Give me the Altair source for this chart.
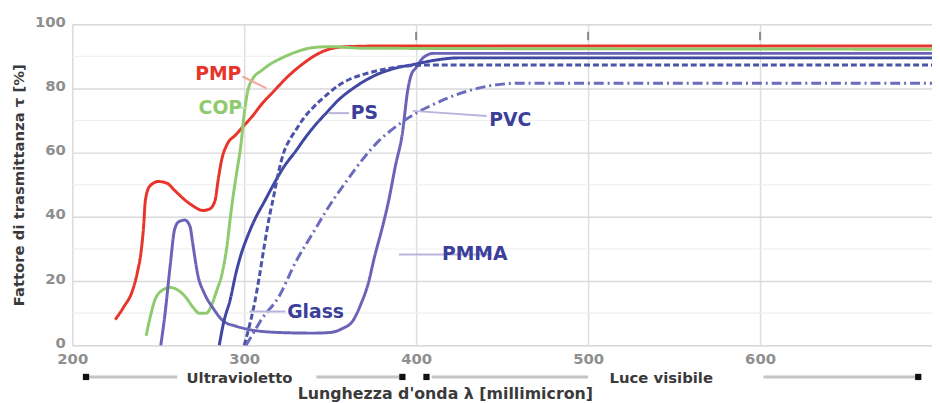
import altair as alt
import pandas as pd

# ---------------- data (wavelength nm, transmittance %) ----------------
pmp_nm = [225, 230, 235, 238, 240, 241.5, 242.5, 245, 250, 255, 260, 265, 270, 276, 280, 283, 285, 287, 290, 295, 300, 305, 310, 317, 325, 335, 342, 350, 360, 380, 700]
pmp_t  = [8, 12, 17, 23, 29, 37, 45, 49.5, 51, 50.5, 48, 45.5, 43.5, 42, 42.5, 45, 52, 58, 62.5, 65.5, 68.5, 71.5, 75, 79, 83.5, 88, 90.5, 92.3, 93, 93.2, 93.2]

cop_nm = [243, 245, 248, 252, 257, 262, 266, 270, 274, 278, 281, 284, 287, 290, 292, 294, 296, 298, 300, 302, 305, 310, 315, 322, 330, 340, 350, 370, 700]
cop_t  = [3, 8, 14, 17, 18, 17, 15, 12, 10, 10, 12.5, 17, 22, 31, 40, 48, 55, 62, 72, 79, 83, 85.5, 87.5, 89.5, 91.3, 92.7, 93, 92.5, 92.2]

pmma_nm = [251.5, 254, 257, 259.5, 262, 265.5, 268.5, 270, 273, 277, 282, 288, 295, 302, 320, 340, 350, 357, 363, 368, 372, 376, 380, 384, 388, 392, 395, 397, 400, 404, 410, 700]
pmma_t  = [0, 10, 25, 36, 38.5, 39, 37, 32, 22, 16, 11.5, 7.5, 6, 5, 4, 3.8, 4, 5.2, 7.5, 13, 19, 28, 36, 45, 56, 66, 79, 84, 86.5, 89.5, 90.9, 90.9]

ps_nm = [285.5, 288, 292, 295, 298, 302, 306, 312, 317, 323, 330, 336, 342, 348, 355, 362, 369, 378, 388, 399, 410, 425, 700]
ps_t  = [0, 7, 14.5, 22, 28, 34, 39, 45, 50, 55.5, 60.5, 65, 69, 72.5, 76.5, 79.5, 82, 84.5, 86.3, 87.5, 88.7, 89.5, 89.5]

glass_nm = [300, 303, 306, 309, 312, 315, 317, 320, 323, 327, 330, 335, 340, 348, 355, 362, 369, 380, 395, 410, 700]
glass_t  = [0, 6, 13, 22, 32, 41, 46, 54, 60, 64.5, 67, 71, 74, 78, 81, 83, 84.3, 85.8, 87, 87.3, 87.3]

pvc_nm = [301, 305, 310, 320, 330, 340, 349, 358, 369, 378, 388, 399, 410, 426, 445, 460, 700]
pvc_t  = [0, 3.5, 8, 15, 26, 35, 43, 50, 58, 63.5, 68, 72, 75, 78.5, 81, 81.6, 81.6]

series_names  = ["PMP", "COP", "PMMA", "PS", "Glass", "PVC"]
series_colors = ["#e8352c", "#8fcb6e", "#6a63b8", "#3f47a3", "#4a52aa", "#6b6cbb"]
series_dashes = [[1, 0], [1, 0], [1, 0], [1, 0], [6, 3], [10, 4, 2, 4]]

# curve labels
lab_text  = ["PMP", "COP", "PS", "PVC", "PMMA", "Glass"]
lab_nm    = [271.5, 273.5, 362, 442.5, 415, 325]
lab_t     = [84.6, 73.8, 72.3, 70.2, 28.3, 10.5]
lab_color = ["#e8352c", "#8fcb6e", "#3b3f9a", "#3b3f9a", "#3b3f9a", "#3b3f9a"]

# leader lines
lead_x1 = [299, 295, 349, 398, 390, 303]
lead_y1 = [83.7, 74, 72.3, 73, 28.3, 10.5]
lead_x2 = [313, 301, 361, 441, 444, 324]
lead_y2 = [80, 74, 72.3, 71.4, 28.3, 10.5]
lead_col = ["#f2a7a3", "#bfe0aa", "#b9b5de", "#b9b5de", "#b9b5de", "#b9b5de"]

# spectral region arrows below the axis
arrow_x1 = [208, 342, 409, 602]
arrow_x2 = [261, 392, 500, 692]
head_nm = [208, 392, 406, 692]
region_text = ["Ultravioletto", "Luce visibile"]
region_nm = [266.5, 512.5]

minor_grid = [10, 30, 50, 70, 90]
top_ticks = [400, 500, 600]

W, H = 870, 325

rows = []
for name, xs_, ys_ in zip(series_names,
                          [pmp_nm, cop_nm, pmma_nm, ps_nm, glass_nm, pvc_nm],
                          [pmp_t, cop_t, pmma_t, ps_t, glass_t, pvc_t]):
    for i, (a, b) in enumerate(zip(xs_, ys_)):
        rows.append({"series": name, "nm": a, "t": b, "i": i})
curves = pd.DataFrame(rows)

xs = alt.Scale(domain=[200, 700], nice=False)
ys = alt.Scale(domain=[0, 100], nice=False)

x_axis = alt.Axis(values=[200, 300, 400, 500, 600], title=None, grid=True,
                  gridColor="#dedede", gridWidth=1.5, domain=False, ticks=False,
                  labelFont="DejaVu Sans", labelFontSize=15, labelFontWeight="bold",
                  labelColor="#8f8f8f", labelPadding=6, labelFlush=False)
y_axis = alt.Axis(values=[0, 20, 40, 60, 80, 100], title="Fattore di trasmittanza τ [%]",
                  grid=True, gridColor="#d9d9d9", gridWidth=1.5, domain=False, ticks=False,
                  labelFont="DejaVu Sans", labelFontSize=15, labelFontWeight="bold",
                  labelColor="#8f8f8f", labelPadding=7, labelOffset=-3,
                  titleFont="DejaVu Sans", titleFontSize=15,
                  titleFontWeight="bold", titleColor="#3a3a3a", titlePadding=8)

base_grid = alt.Chart(pd.DataFrame({"nm": [200], "t": [0]})).mark_point(opacity=0).encode(
    x=alt.X("nm:Q", scale=xs, axis=x_axis),
    y=alt.Y("t:Q", scale=ys, axis=y_axis),
)

minor = alt.Chart(pd.DataFrame({"t": minor_grid})).mark_rule(color="#eeeeee", strokeWidth=1.2).encode(
    y=alt.Y("t:Q", scale=ys)
)

topt = alt.Chart(pd.DataFrame({"nm": top_ticks, "a": [95] * 3, "b": [97.6] * 3})).mark_rule(
    color="#8a8a8a", strokeWidth=2).encode(
    x=alt.X("nm:Q", scale=xs), y=alt.Y("a:Q", scale=ys), y2="b:Q")

lines = alt.Chart(curves).mark_line(strokeWidth=3, interpolate="monotone").encode(
    x=alt.X("nm:Q", scale=xs),
    y=alt.Y("t:Q", scale=ys),
    color=alt.Color("series:N", scale=alt.Scale(domain=series_names, range=series_colors), legend=None),
    strokeDash=alt.StrokeDash("series:N", scale=alt.Scale(domain=series_names, range=series_dashes), legend=None),
    order="i:Q",
)

leaders = alt.Chart(pd.DataFrame({"x1": lead_x1, "y1": lead_y1, "x2": lead_x2, "y2": lead_y2,
                                  "c": lead_col})).mark_rule(strokeWidth=2).encode(
    x=alt.X("x1:Q", scale=xs), y=alt.Y("y1:Q", scale=ys), x2="x2:Q", y2="y2:Q",
    color=alt.Color("c:N", scale=None))

labels = alt.Chart(pd.DataFrame({"txt": lab_text, "nm": lab_nm, "t": lab_t, "c": lab_color})).mark_text(
    align="left", baseline="middle", font="DejaVu Sans", fontWeight="bold", fontSize=19).encode(
    x=alt.X("nm:Q", scale=xs), y=alt.Y("t:Q", scale=ys), text="txt:N",
    color=alt.Color("c:N", scale=None))

arrows = alt.Chart(pd.DataFrame({"a": arrow_x1, "b": arrow_x2})).mark_rule(
    color="#c4c4c4", strokeWidth=3).encode(
    x=alt.X("a:Q", scale=xs), x2="b:Q", y=alt.value(H + 32))

heads = alt.Chart(pd.DataFrame({"nm": head_nm})).mark_square(
    color="#111111", size=40, opacity=1).encode(
    x=alt.X("nm:Q", scale=xs), y=alt.value(H + 32))

regions = alt.Chart(pd.DataFrame({"txt": region_text, "nm": region_nm})).mark_text(
    align="left", baseline="middle", font="DejaVu Sans", fontWeight="bold",
    fontSize=15, color="#3a3a3a").encode(
    x=alt.X("nm:Q", scale=xs), y=alt.value(H + 33), text="txt:N")

xtitle = alt.Chart(pd.DataFrame({"txt": ["Lunghezza d'onda λ [millimicron]"], "nm": [417]})).mark_text(
    align="center", baseline="middle", font="DejaVu Sans", fontWeight="bold",
    fontSize=16, color="#3a3a3a").encode(
    x=alt.X("nm:Q", scale=xs), y=alt.value(H + 49), text="txt:N")

chart = alt.layer(base_grid, minor, topt, lines, leaders, labels, arrows, heads, regions, xtitle).properties(
    width=W, height=H,
    autosize=alt.AutoSizeParams(type="none"),
    padding={"left": 65, "top": 14, "right": 0, "bottom": 56},
).configure_view(stroke="#9c9c9c", strokeWidth=3).configure(background="white")

chart.save("out.html", embed_options={"renderer": "svg", "actions": False})
